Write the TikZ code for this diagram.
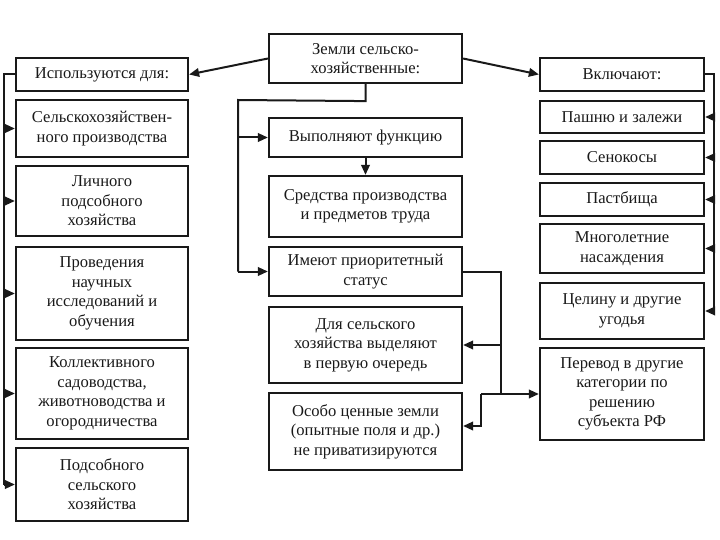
\documentclass[tikz,border=0pt]{standalone}
\usepackage{fontspec}
\setmainfont{Liberation Serif}
\usetikzlibrary{arrows.meta,calc}
\begin{document}
\begin{tikzpicture}[x=1pt,y=-1pt,
  box/.style={draw=black!90,line width=2.2pt,align=center,inner sep=0pt,
    font=\fontsize{16.6}{19.5}\selectfont,text=black!90},
  conn/.style={draw=black!90,line width=2pt},
  arr/.style={conn,-{Triangle[length=10pt,width=8.5pt]}}]
\useasboundingbox (0,0) rectangle (720,540);
% left column
\node[box,minimum width=172pt,minimum height=33pt] (isp) at (102,74.5) {Используются для:};
\node[box,minimum width=172pt,minimum height=57pt] (s1) at (102,128.5) {Сельскохозяйствен-\\ного производства};
\node[box,minimum width=172pt,minimum height=70pt] (s2) at (102,201) {Личного\\подсобного\\хозяйства};
\node[box,minimum width=172pt,minimum height=93pt] (s3) at (102,293.5) {Проведения\\научных\\исследований и\\обучения};
\node[box,minimum width=172pt,minimum height=91pt] (s4) at (102,393.5) {Коллективного\\садоводства,\\животноводства и\\огородничества};
\node[box,minimum width=172pt,minimum height=73pt] (s5) at (102,484.5) {Подсобного\\сельского\\хозяйства};
% center column
\node[box,minimum width=193pt,minimum height=49pt] (zem) at (365.5,58.5) {Земли сельско-\\хозяйственные:};
\node[box,minimum width=193pt,minimum height=39pt] (vyp) at (365.5,137.5) {Выполняют функцию};
\node[box,minimum width=193pt,minimum height=61pt] (sred) at (365.5,206.5) {Средства производства\\и предметов труда};
\node[box,minimum width=193pt,minimum height=49pt] (imeut) at (365.5,271.5) {Имеют приоритетный\\статус};
\node[box,minimum width=193pt,minimum height=76pt] (dlya) at (365.5,345) {Для сельского\\хозяйства выделяют\\в первую очередь};
\node[box,minimum width=193pt,minimum height=77pt] (osobo) at (365.5,431.5) {Особо ценные земли\\(опытные поля и др.)\\не приватизируются};
% right column
\node[box,minimum width=164pt,minimum height=33pt] (vkl) at (622,74.5) {Включают:};
\node[box,minimum width=164pt,minimum height=32pt] (r1) at (622,117) {Пашню и залежи};
\node[box,minimum width=164pt,minimum height=33pt] (r2) at (622,157.5) {Сенокосы};
\node[box,minimum width=164pt,minimum height=33pt] (r3) at (622,199.5) {Пастбища};
\node[box,minimum width=164pt,minimum height=49pt] (r4) at (622,248.5) {Многолетние\\насаждения};
\node[box,minimum width=164pt,minimum height=56pt] (r5) at (622,311) {Целину и другие\\угодья};
\node[box,minimum width=164pt,minimum height=92pt] (r6) at (622,394) {Перевод в другие\\категории по\\решению\\субъекта РФ};
% top arrows
\draw[arr] (zem.west) -- (isp.east);
\draw[arr] (zem.east) -- (vkl.west);
% left bus
\coordinate (lb) at ($(isp.west)+(-11,0)$);
\draw[conn] (isp.west) -- (lb) -- (lb |- s5.west);
\foreach \n in {s1,s2,s3,s4,s5} \draw[arr] (lb |- \n.west) -- (\n.west);
% right bus
\coordinate (rb) at ($(vkl.east)+(9,0)$);
\draw[conn] (vkl.east) -- (rb) -- (rb |- r5.east);
\foreach \n in {r1,r2,r3,r4,r5} \draw[arr] (rb |- \n.east) -- (\n.east);
% center
\coordinate (c1) at ($(zem.south)+(0,17)$);
\coordinate (cb) at (238,100);
\draw[conn] (zem.south) -- (c1) -- (cb) -- (cb |- imeut.west);
\draw[arr] (cb |- imeut.west) -- (imeut.west);
\draw[arr] (cb |- vyp.west) -- (vyp.west);
\draw[arr] (vyp.south) -- (sred.north);
% right of center
\coordinate (m1) at (501,271.5);
\draw[conn] (imeut.east) -- (m1) -- (m1 |- r6.west);
\draw[arr] (m1 |- r6.west) -- (r6.west);
\draw[arr] (m1 |- dlya.east) -- (dlya.east);
\coordinate (m2) at (481,394);
\coordinate (m3) at ($(osobo.east)+(0,-5.5)$);
\draw[conn] (m1 |- r6.west) -- (m2);
\draw[arr] (m2) -- (m2 |- m3) -- (m3);
\end{tikzpicture}
\end{document}
